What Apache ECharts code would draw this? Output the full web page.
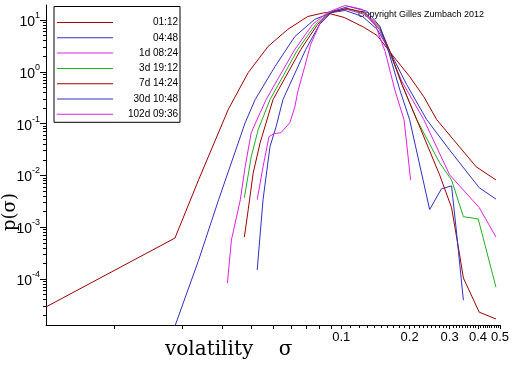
<!DOCTYPE html>
<html><head><meta charset="utf-8">
<script src="https://cdn.jsdelivr.net/npm/echarts@6/dist/echarts.min.js"></script>
<style>html,body{margin:0;padding:0;background:#fff}#c{width:512px;height:366px}</style>
</head><body><div id="c"></div>
<script>
// ---- data (sigma, density) ----
const seriesNames = ['01:12', '04:48', '1d 08:24', '3d 19:12', '7d 14:24', '30d 10:48', '102d 09:36'];
const seriesColors = ['#a00000', '#3030c0', '#e020e0', '#20b020', '#a00000', '#3030c0', '#e020e0'];

const s0112 = [[0.0050,2.9e-5],[0.0185,6.2e-4],[0.0235,8.2e-3],[0.0318,0.19],[0.0389,0.97],[0.0476,3.1],[0.0581,6.6],[0.0711,11.7],[0.0852,14.0],[0.103,11.2],[0.126,7.2],[0.144,5.0],[0.164,2.4],[0.200,0.81],[0.231,0.33],[0.263,0.12],[0.312,0.049],[0.393,0.0147],[0.480,0.0082]];
const s0448 = [[0.0181,9.5e-6],[0.0235,2.3e-4],[0.0288,3.4e-3],[0.0377,0.104],[0.0417,0.29],[0.0510,1.26],[0.0624,4.8],[0.0763,10.3],[0.0914,14.0],[0.104,15.3],[0.124,11.7],[0.144,6.6],[0.162,2.7],[0.194,0.57],[0.238,0.119],[0.300,0.031],[0.405,5.8e-3],[0.480,3.5e-3]];
const s1d0824 = [[0.0315,8.4e-5],[0.0328,5.7e-4],[0.0359,3.4e-3],[0.0377,0.0147],[0.0401,0.067],[0.0439,0.163],[0.0466,0.29],[0.0624,2.7],[0.0747,8.2],[0.0869,14.0],[0.106,16.0],[0.127,12.8],[0.147,6.6],[0.162,2.46],[0.185,0.65],[0.231,0.119],[0.300,0.0103],[0.405,2.4e-3],[0.480,6.5e-4]];
const s3d1912 = [[0.0374,3.7e-3],[0.0401,0.023],[0.0430,0.076],[0.0485,0.29],[0.0643,2.7],[0.0770,8.2],[0.0887,14.0],[0.106,16.7],[0.127,13.4],[0.148,6.6],[0.164,2.36],[0.185,0.57],[0.215,0.119],[0.271,0.0176],[0.306,8.2e-3],[0.345,1.6e-3],[0.401,1.45e-3],[0.480,7.0e-5]];
const s7d1424 = [[0.0374,6.5e-4],[0.0389,2.2e-3],[0.0409,0.0112],[0.0439,0.043],[0.0500,0.29],[0.0663,2.7],[0.0786,8.2],[0.0896,14.0],[0.106,16.7],[0.127,14.0],[0.148,7.2],[0.164,2.46],[0.185,0.57],[0.215,0.119],[0.271,0.0103],[0.306,2.4e-3],[0.331,3.2e-4],[0.345,1.05e-4],[0.405,2.3e-5],[0.480,1.7e-5]];
const s30d1048 = [[0.0426,1.5e-4],[0.0452,3.4e-3],[0.0485,0.036],[0.0516,0.087],[0.0553,0.29],[0.0697,2.7],[0.0802,8.2],[0.0914,14.7],[0.108,18.3],[0.130,14.7],[0.148,7.5],[0.162,2.36],[0.181,0.45],[0.200,0.119],[0.245,2.2e-3],[0.276,5.5e-3],[0.306,6.3e-3],[0.321,8.9e-4],[0.345,3.9e-5]];
const s102d0936 = [[0.0426,3.4e-3],[0.0452,0.0147],[0.0480,0.056],[0.0505,0.064],[0.0542,0.067],[0.0593,0.104],[0.0624,0.21],[0.0643,0.415],[0.0690,1.26],[0.0733,3.4],[0.0810,9.0],[0.0869,14.0],[0.104,19.1],[0.124,16.0],[0.141,8.2],[0.156,2.46],[0.172,0.45],[0.189,0.119],[0.202,8.2e-3]];
const seriesData = [s0112, s0448, s1d0824, s3d1912, s7d1424, s30d1048, s102d0936];

// ---- axis ticks / labels ----
const xTickLabels = [0.1, 0.2, 0.3, 0.4, 0.5];
const yTickLabels = [1e-4, 1e-3, 1e-2, 1e-1, 1, 10];
const xMajorTicks = [0.01,0.02,0.03,0.04,0.05,0.06,0.07,0.08,0.09,0.1,0.2,0.3,0.4,0.5];
const xMinorTicks = [];
for (let i = 11; i < 50; i++) if (i % 10) xMinorTicks.push(i / 100);
const yMinorTicks = [];
for (let e = -5; e <= 1; e++) for (let m = 2; m <= 9; m++) { const v = m * Math.pow(10, e); if (v > 1.3e-5 && v < 19.5) yMinorTicks.push(v); }

const X_MIN = 0.005, X_MAX = 0.5, Y_MIN = 1.3e-5, Y_MAX = 19.5;
const black = '#000';
const chart = echarts.init(document.getElementById('c'), null, {renderer: 'canvas'});

const baseX = {type: 'log', logBase: 10, min: X_MIN, max: X_MAX, position: 'bottom', offset: 0, splitLine: {show: false}};
const baseY = {type: 'log', logBase: 10, min: Y_MIN, max: Y_MAX, position: 'left', offset: 0, splitLine: {show: false}};

chart.setOption({
  animation: false,
  backgroundColor: '#fff',
  grid: {left: 46, right: 8, top: 5, bottom: 41},
  xAxis: [
    Object.assign({}, baseX, {
      axisLine: {show: true, lineStyle: {color: black, width: 1}},
      axisTick: {show: true, customValues: xMajorTicks, length: 4, lineStyle: {color: black}},
      axisLabel: {show: true, customValues: xTickLabels, margin: 6, color: black, fontSize: 13, fontFamily: 'Liberation Sans',
        formatter: v => String(+(+v).toFixed(2))}
    }),
    Object.assign({}, baseX, {
      axisLine: {show: false},
      axisTick: {show: true, customValues: xMinorTicks, length: 3, lineStyle: {color: black}},
      axisLabel: {show: false}
    })
  ],
  yAxis: [
    Object.assign({}, baseY, {
      axisLine: {show: true, lineStyle: {color: black, width: 1}},
      axisTick: {show: true, customValues: yMinorTicks, length: 3, lineStyle: {color: black}},
      axisLabel: {show: true, customValues: yTickLabels, margin: 6, color: black,
        formatter: v => '{b|10}{e|' + Math.round(Math.log10(v)) + '}',
        rich: {
          b: {fontSize: 14, fontFamily: 'Liberation Sans', color: black, lineHeight: 18, verticalAlign: 'bottom'},
          e: {fontSize: 9, fontFamily: 'Liberation Sans', color: black, lineHeight: 10, verticalAlign: 'top'}
        }}
    }),
    Object.assign({}, baseY, {
      axisLine: {show: false},
      axisTick: {show: true, customValues: yTickLabels, length: 6, lineStyle: {color: black}},
      axisLabel: {show: false}
    })
  ],
  legend: {
    orient: 'vertical', left: 54, top: 6.5,
    padding: [9, 2, 1, 3],
    icon: 'rect',
    itemGap: 1.3, itemWidth: 56, itemHeight: 1,
    borderColor: black, borderWidth: 1, borderRadius: 0,
    backgroundColor: '#fff',
    selectedMode: false,
    formatter: n => '{a|' + n + '}',
    textStyle: {rich: {a: {width: 60, height: 14, align: 'right', fontSize: 10, fontFamily: 'Liberation Sans', color: black, lineHeight: 14}}},
    data: seriesNames
  },
  graphic: [
    {type: 'text', left: 358, top: 10, silent: true, style: {text: 'Copyright Gilles Zumbach 2012', fontSize: 9, fontFamily: 'Liberation Sans', fill: black}},
    {type: 'text', left: 165, top: 340, silent: true, style: {text: 'volatility    σ', fontSize: 20, fontFamily: 'DejaVu Serif', fill: black}},
    {type: 'text', x: 10, y: 212, rotation: Math.PI / 2, silent: true, style: {text: 'p(σ)', fontSize: 18, fontFamily: 'DejaVu Serif', fill: black, align: 'center', verticalAlign: 'middle'}}
  ],
  series: seriesNames.map((name, i) => ({
    name, type: 'line', data: seriesData[i], symbol: 'none', showSymbol: false,
    xAxisIndex: 0, yAxisIndex: 0, clip: true,
    color: seriesColors[i], lineStyle: {color: seriesColors[i], width: 1}
  }))
});
</script></body></html>
